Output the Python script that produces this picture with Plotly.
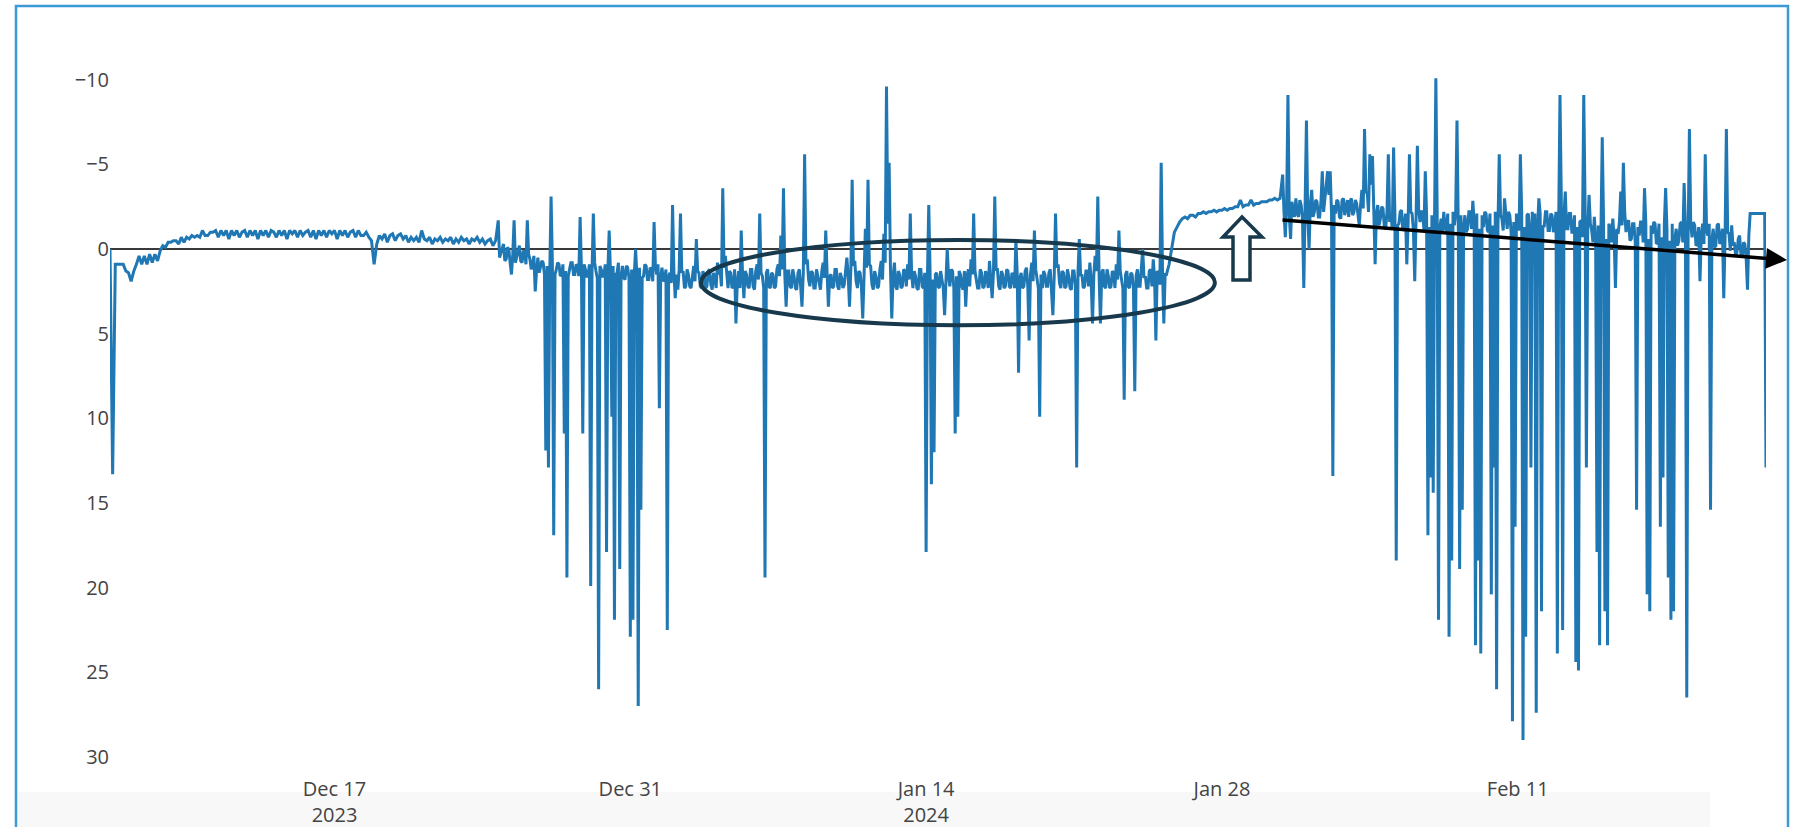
import pandas as pd
import plotly.graph_objects as go

# ---------------------------------------------------------------------------
# Readings, split into stretches of the record. Each list starts at its own
# timestamp and has its own sampling interval.
# ---------------------------------------------------------------------------

# quiet start of the record, 3-hourly (one row = one day)
early_dec_start, early_dec_freq = "2023-12-06 09:00", "3h"
early_dec = [
    0.0, 13.3, 0.9, 0.9, 0.9, 0.9, 1.3, 1.4,
    1.9, 1.3, 0.9, 0.4, 0.9, 0.4, 0.9, 0.3,
    0.8, 0.3, 0.7, 0.1, -0.2, -0.1, -0.4, -0.4,
    -0.5, -0.5, -0.3, -0.7, -0.4, -0.7, -0.6, -0.8,
    -0.7, -0.8, -0.7, -1.1, -0.8, -0.8, -1.0, -1.0,
    -1.1, -0.7, -1.1, -0.8, -1.1, -0.6, -1.1, -0.8,
    -1.1, -0.7, -1.0, -1.1, -0.7, -1.1, -0.8, -1.1,
    -0.6, -1.1, -0.8, -1.1, -0.7, -1.1, -1.0, -0.7,
    -1.1, -0.8, -1.1, -0.6, -1.1, -0.9, -1.1, -0.7,
    -1.1, -0.8, -1.0, -1.1, -0.7, -1.1, -0.6, -1.1,
    -0.8, -1.1, -0.7, -1.1, -0.9, -1.1, -0.6, -1.1,
    -0.8, -1.1, -0.7, -1.0, -1.1, -0.7, -1.1, -0.8,
    -0.8, -1.0, -0.7, -0.5, 0.9, -0.3, -0.8, -0.6,
    -0.9, -0.4, -0.8, -0.9, -0.5, -0.8, -0.9, -0.6,
    -0.8, -0.4, -0.7, -0.5, -0.7, -0.4, -1.1, -0.6,
    -0.5, -0.7, -0.3, -0.6, -0.5, -0.7, -0.4, -0.6,
    -0.5, -0.7, -0.3, -0.6, -0.4, -0.7, -0.5, -0.6,
    -0.3, -0.6, -0.5, -0.7, -0.4, -0.6, -0.3, -0.5,
    -0.6, -0.2, -0.5,
]

# turbulent end of December, every 90 minutes (one row = one day)
late_dec_start, late_dec_freq = "2023-12-24 18:00", "90min"
late_dec = [
    -1.7, 0.5, 0.2, -0.1, -0.3, 0.7, 0.6, -0.1, 0.0, 0.8, 1.5, 0.3, -1.7, 0.8, 0.4, 0.0,
    -0.2, 0.7, 0.8, 0.1, 0.2, 0.9, -1.7, 0.3, 0.6, 1.2, 0.9, 0.4, 2.5, 1.3, 0.5, 1.4,
    1.1, 0.7, 0.8, 1.5, 11.9, 1.0, 12.9, 1.4, -3.1, 0.9, 16.9, 1.5, 1.2, 0.8, 0.9, 1.6,
    1.5, 0.9, 10.9, 1.3, 19.4, 1.6, 1.2, 0.8, 0.8, 1.5, 1.5, 0.9, 1.0, 1.6, -1.9, 1.2,
    10.9, 0.9, 1.2, 1.6, 1.6, 0.9, 19.9, 1.4, -2.1, 0.8, 1.3, 1.7, 26.0, 1.0, 1.2, 1.6,
    1.6, 0.9, 17.9, 1.3, -1.1, 1.5, 9.9, 1.0, 21.9, 1.5, 1.4, 0.8, 18.9, 1.6, 1.0, 1.7,
    1.8, 1.0, 1.1, 1.7, 22.9, 1.2, 21.9, 1.5, 0.0, 1.6, 27.0, 1.1, 15.4, 1.7, 1.6, 0.9,
    1.0, 1.8, 1.8, 1.1, 1.2, 1.9, -1.6, 1.0, 1.5, 0.9, 9.4, 1.6, 1.1, 1.9, 1.8, 1.2,
    22.5, 1.6, 1.4, 2.0, -2.6, 1.3, 2.9, 1.5, 2.4, 1.2, -2.1, 1.4,
]

# steady January band, every 90 minutes (one row = one day)
mid_jan_start, mid_jan_freq = "2024-01-02 12:00", "90min"
mid_jan = [
    1.3, 2.3, 2.2, 1.2, 1.5, 2.2, 2.3, 1.4, 1.0, 1.9, -0.6, 1.3, 1.4, 2.2, 2.3, 1.3,
    1.6, 2.3, 2.2, 1.3, 1.2, 2.1, 2.4, 1.4, 1.7, 2.3, 0.8, 1.5, 1.2, 2.2, -3.6, 1.1,
    0.4, 1.4, 2.3, 1.3, 1.4, 2.3, 2.2, 1.2, 4.4, 2.0, 1.3, 2.3, -1.1, 1.5, 2.9, 1.3,
    1.5, 2.2, 2.3, 1.2, 1.2, 2.2, 2.4, 1.3, 0.9, 1.8, -2.1, 1.4, 1.6, 2.3, 19.4, 1.4,
    1.2, 2.2, 2.3, 1.4, 1.5, 2.3, 2.2, 1.2, 0.9, 1.6, -0.8, 1.2, -3.6, 1.5, 3.4, 1.3,
    1.3, 2.2, 2.3, 1.2, 1.6, 2.3, 2.4, 1.4, 1.2, 2.2, 3.4, 1.4, -5.6, 0.9, 0.6, 1.8,
    2.2, 1.3, 1.4, 2.3, 2.3, 1.2, 1.6, 2.2, 2.4, 1.3, 0.8, 1.7, -1.1, 1.4, 3.4, 1.6,
    1.5, 2.3, 2.2, 1.2, 1.2, 2.2, 2.4, 1.4, 1.7, 2.3, 2.1, 1.3, 0.5, 1.6, 3.4, 1.2,
    -4.1, 1.0, 0.7, 1.9, 2.3, 1.3, 1.4, 2.2, 4.1, 1.6, -1.2, 1.1, -4.1, 0.9, 1.0, 2.1,
    2.4, 1.3, 1.6, 2.3, 2.2, 1.2, 0.7, 1.8, -0.9, 0.8, -9.6, -1.5, -5.1, 1.2, 4.1, 1.6,
    0.8, 2.2, 2.4, 1.3, 1.5, 2.3, 2.2, 1.2, 1.3, 2.2, 0.9, 1.8, -2.1, 1.4, 2.3, 1.3,
    1.6, 2.3, 2.4, 1.2, 1.2, 2.2, 2.3, 1.4, 17.9, 1.6, -2.6, 1.3, 13.9, 1.8, 12.0, 1.5,
    1.4, 2.2, 2.3, 1.3, 1.7, 2.3, 3.9, 1.4, 0.0, 1.6, 2.2, 1.2, 1.3, 2.3, 10.9, 1.6,
    9.9, 1.3, 1.5, 2.2, 2.4, 1.3, 3.4, 1.6, 1.2, 2.2, 0.6, 1.5, -2.1, 1.3, 1.8, 2.3,
    2.3, 1.2, 1.4, 2.3, 2.2, 1.3, 1.6, 2.3, 0.7, 1.8, 2.9, 1.4, -3.1, 1.2, 1.2, 2.2,
    2.4, 1.3, 1.5, 2.3, 2.2, 1.2, 1.3, 2.2, 2.3, 1.4, 1.6, 2.3, -0.6, 1.5, 7.3, 1.7,
    1.4, 2.3, 2.2, 1.3, 1.1, 2.2, 5.4, 1.5, 0.8, 1.9, -1.1, 1.2, 1.7, 2.3, 9.9, 1.5,
    2.3, 1.3, 1.5, 2.2, 2.2, 1.4, 1.2, 2.3, 3.9, 1.6, -2.1, 1.1, 0.9, 2.0, 2.3, 1.3,
    1.4, 2.3, 2.2, 1.2, 1.6, 2.3, 2.4, 1.3, 1.3, 2.1, 12.9, 1.4, -0.6, 1.6, 1.5, 2.3,
    2.2, 1.3, 1.3, 2.2, 0.8, 1.9, 4.4, 1.5, 0.4, 1.3, -3.1, 1.6, 4.4, 1.4, 1.2, 2.2,
    2.3, 1.2, 1.6, 2.3, 2.2, 1.3, 1.4, 2.3, 0.9, 1.8, -1.1, 1.3, 1.8, 2.3, 8.9, 1.5,
    1.3, 2.2, 2.3, 1.4, 1.5, 2.3, 8.4, 1.6, 1.2, 2.2, 2.2, 1.3, 0.0, 1.7, 1.6, 2.3,
    2.3, 1.3, 1.2, 2.2, 0.6, 1.7, 5.4, 1.3, 1.4, 2.1, -5.1, 1.2, 4.4, 1.5,
]

# late-January climb, 3-hourly (one row = one day)
late_jan_start, late_jan_freq = "2024-01-25 09:00", "3h"
late_jan = [
    1.5, 0.9, -0.2, -1.0, -1.3, -1.6, -1.8, -1.9,
    -1.8, -2.0, -2.0, -1.9, -2.1, -2.1, -2.2, -2.1,
    -2.2, -2.2, -2.3, -2.2, -2.3, -2.3, -2.4, -2.3,
    -2.4, -2.4, -2.5, -2.5, -2.9, -2.5, -2.6, -2.6,
    -2.9, -2.6, -2.7, -2.7, -2.8, -2.8, -2.8, -2.9,
    -2.9, -3.0, -2.9, -3.0,
]

# February, every 90 minutes (one row = one day)
feb_start, feb_freq = "2024-01-30 21:00", "90min"
feb = [
    -4.4, -2.2, -0.7, -2.6, -9.1, -2.0, -0.6, -2.8, -2.4, -1.9, -3.0, -2.1, -1.9, -2.9, -2.6, -1.8,
    2.3, -2.4, -7.6, -2.0, 0.0, -2.7, -3.5, -1.9, -2.2, -2.9, -2.8, -1.9, -1.9, -2.8, -4.6, -2.2,
    -3.0, -4.1, -4.6, -3.2, -4.6, -2.1, 13.4, -2.6, -2.1, -2.9, -2.8, -1.9, -1.8, -2.9, -3.0, -2.0,
    -2.5, -2.9, -1.9, -2.8, -3.0, -2.0, -2.2, -2.9, -2.7, -1.8, -1.4, -2.6, -3.5, -2.4, -7.1, -3.3,
    -3.4, -2.2, -5.6, -3.8, -5.5, -2.3, 0.9, -2.1, -2.6, -1.4, -1.8, -2.5, -2.4, -1.3, -1.2, -2.2,
    -5.6, -1.6, -2.0, -1.2, -6.0, -2.0, 18.4, -1.4, -1.5, -2.2, -2.3, -1.1, -1.2, -2.1, 0.9, -1.6,
    -5.6, -2.2, -2.1, -1.1, 1.9, -1.8, -6.1, -2.3, -1.6, -2.2, -2.2, -1.1, -4.6, -2.0, 16.9, -1.3,
    13.5, -2.0, 14.4, -1.6, -10.1, -2.2, 21.9, -1.3, -1.8, -1.0, -2.2, -1.2, -1.1, -2.1, 22.9, -1.5,
    18.4, -2.2, -1.4, -2.1, -7.6, -1.2, 18.9, -2.0, 15.4, -1.3, -2.0, -1.0, -1.2, -2.2, -2.2, -1.2,
    -2.85, -1.6, 23.4, -2.1, 18.4, -1.2, 23.9, -2.0, -1.3, -2.2, -2.1, -1.1, -1.0, -2.1, 20.4, -1.4,
    12.9, -2.2, 26.0, -1.2, -5.6, -2.0, -1.8, -1.1, -3.0, -2.1, -1.2, -2.2, -2.0, -1.0, 27.9, -1.6,
    16.4, -2.1, -1.5, -1.1, -5.6, -2.2, 29.0, -1.3, 22.9, -2.0, -2.1, -1.2, 12.9, -2.2, -1.4, -2.1,
    27.4, -1.2, -3.0, -2.1, 21.4, -1.4, -1.3, -2.2, -2.2, -1.1, -1.1, -2.1, -2.0, -1.0, -1.4, -2.2,
    23.9, -1.5, -9.1, -2.9, 22.5, -2.0, -3.4, -1.2, -1.2, -2.1, -2.1, -1.0, -1.0, -2.0, 24.4, -1.3,
    24.9, -1.6, -1.7, -0.7, -9.1, -2.6, 12.9, -1.2, -3.2, -1.5, -1.1, -0.4, -1.9, -0.6, 17.9, -1.4,
    23.4, -1.0, -6.6, -1.6, 21.4, -0.6, 23.4, -1.5, -1.3, -0.4, -1.8, -0.7, 2.3, -1.2, -0.9, -1.6,
    -3.4, -1.4, -5.1, -2.2, -1.0, -1.6, -1.7, -0.5, -0.6, -1.5, -1.5, -0.4, 15.4, -1.3, -0.8, -1.6,
    -1.6, -0.4, -3.6, -1.5, 20.4, -0.6, 21.4, -1.4, -0.9, -1.6, -1.5, -0.3, -0.4, -1.5, 16.4, -0.7,
    13.5, -1.4, -3.6, -1.2, 19.4, -0.5, 21.9, -1.5, 21.4, -0.6, -1.2, -0.2, -0.5, -1.5, -1.6, -0.4,
    -3.9, -1.2, 26.5, -0.6, -7.1, -1.5, -0.7, -1.6, -1.4, -0.2, -0.3, -1.3, 1.9, -0.8, -1.5, -0.3,
    -5.6, -1.1, -0.8, -1.5, 15.4, -0.5, -1.2, -0.1, -0.2, -1.4, -1.5, -0.3, -0.6, -1.2, 2.9, -0.6,
    -7.1, -1.0, -0.9, 0.1, -1.4, -0.2, -0.4, 0.4, 0.2, -0.6, -0.8, 0.3, 0.5, -0.4, -0.3, 0.6,
    2.4, -0.8, -2.1, -2.1, -2.1, -2.1, -2.1, -2.1, -2.1, -2.1, -2.1, -2.1, -2.1, -2.1, 12.9,
]

assert len(early_dec) == 147
assert len(late_dec) == 140
assert len(mid_jan) == 366
assert len(late_jan) == 44
assert len(feb) == 367

tick_dates = ["2023-12-17", "2023-12-31", "2024-01-14", "2024-01-28", "2024-02-11"]
tick_text = ["Dec 17<br>2023", "Dec 31", "Jan 14<br>2024", "Jan 28", "Feb 11"]
y_ticks = [-10, -5, 0, 5, 10, 15, 20, 25, 30]

segments = [
    (early_dec_start, early_dec_freq, early_dec),
    (late_dec_start, late_dec_freq, late_dec),
    (mid_jan_start, mid_jan_freq, mid_jan),
    (late_jan_start, late_jan_freq, late_jan),
    (feb_start, feb_freq, feb),
]

times, values = [], []
for start, freq, vals in segments:
    times.extend(pd.date_range(start, periods=len(vals), freq=freq))
    values.extend(vals)

# ---------------------------------------------------------------------------
# Canvas geometry (pixels) and helpers for paper-referenced decorations
# ---------------------------------------------------------------------------
W, H = 1799, 827
M_L, M_R, M_T, M_B = 110, 33, 46, 60


def px(x):
    return (x - M_L) / (W - M_L - M_R)


def py(y):
    return (H - M_B - y) / (H - M_T - M_B)


INK = "#17394b"

fig = go.Figure(
    go.Scatter(
        x=times,
        y=values,
        mode="lines",
        line=dict(color="#1f77b4", width=3),
        hoverinfo="skip",
    )
)

fig.update_layout(
    width=W,
    height=H,
    margin=dict(l=M_L, r=M_R, t=M_T, b=M_B, pad=0),
    paper_bgcolor="white",
    plot_bgcolor="white",
    showlegend=False,
    font=dict(family="Open Sans, sans-serif", size=20, color="#444"),
    xaxis=dict(
        type="date",
        range=[times[0], times[-1]],
        tickmode="array",
        tickvals=tick_dates,
        ticktext=tick_text,
        ticklabelstandoff=8,
        automargin=False,
        showgrid=False,
        zeroline=False,
        showline=False,
        ticks="",
    ),
    yaxis=dict(
        range=[30.6, -12],
        tickmode="array",
        tickvals=y_ticks,
        automargin=False,
        showgrid=False,
        zeroline=True,
        zerolinecolor="#3a3a3a",
        zerolinewidth=1.5,
        showline=False,
        ticks="",
    ),
)

# faint grey strip along the bottom edge
fig.add_shape(
    type="rect", xref="paper", yref="paper",
    x0=px(18), x1=px(1710), y0=py(840), y1=py(792),
    fillcolor="#f8f8f8", line=dict(width=0), layer="below",
)

# outer frame
fig.add_shape(
    type="rect", xref="paper", yref="paper",
    x0=px(16), x1=px(1788), y0=py(840), y1=py(6),
    line=dict(color="#3b9ad6", width=2.5), layer="above",
)

# ellipse around the steady January band
fig.add_shape(
    type="circle", xref="x", yref="y",
    x0="2024-01-03 08:20", x1="2024-01-27 16:00",
    y0=-0.54, y1=4.5,
    line=dict(color=INK, width=4),
)

# hollow upward arrow marking the late-January shift
arrow_pts = [(1242, 217), (1262, 237), (1250, 237), (1250, 280),
             (1233, 280), (1233, 237), (1223, 237)]
path = "M " + " L ".join(f"{px(x):.5f},{py(y):.5f}" for x, y in arrow_pts) + " Z"
fig.add_shape(
    type="path", xref="paper", yref="paper", path=path,
    line=dict(color=INK, width=3.5), fillcolor="white",
)

# trend arrow across February
fig.add_annotation(
    xref="paper", yref="paper",
    x=px(1787), y=py(260),
    ax=1281 - 1787, ay=220 - 260,
    axref="pixel", ayref="pixel",
    text="", showarrow=True,
    arrowhead=2, arrowsize=1.2, arrowwidth=3.5, arrowcolor="black",
    standoff=0, startstandoff=0,
)

fig.write_html("out.html", config={"displayModeBar": False})
